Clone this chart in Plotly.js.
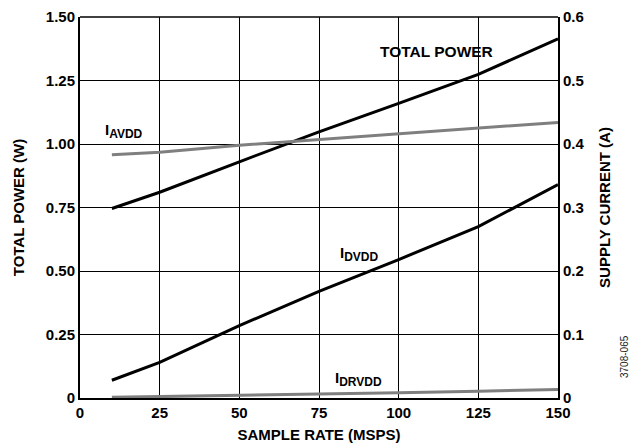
<!DOCTYPE html>
<html><head><meta charset="utf-8">
<script src="https://cdn.plot.ly/plotly-3.0.1.min.js"></script>
<style>html,body{margin:0;padding:0;background:#fff}#c{width:644px;height:444px}</style>
</head><body><div id="c"></div>
<script>
// Sample rate (MSPS)
const sampleRate = [10, 25, 50, 75, 100, 125, 150];
// Total power (W), left axis
const totalPower = [0.746, 0.81, 0.93, 1.048, 1.16, 1.274, 1.414];
// Supply currents (A), right axis
const iAVDD = [0.383, 0.387, 0.398, 0.407, 0.416, 0.425, 0.434];
const iDVDD = [0.028, 0.056, 0.114, 0.168, 0.218, 0.270, 0.336];
const iDRVDD = [0.001, 0.002, 0.0044, 0.0063, 0.0082, 0.0107, 0.0134];

const xTicks = [0, 25, 50, 75, 100, 125, 150];
const yTicks = [0, 0.25, 0.5, 0.75, 1.0, 1.25, 1.5];
const yTickText = ['0', '0.25', '0.50', '0.75', '1.00', '1.25', '1.50'];
const y2Ticks = [0, 0.1, 0.2, 0.3, 0.4, 0.5, 0.6];
const y2TickText = ['0', '0.1', '0.2', '0.3', '0.4', '0.5', '0.6'];

const FONT = 'Liberation Sans, Arial, sans-serif';
const black = '#000000', gray = '#7f7f7f';
const bold = (s) => ({family: FONT, size: s, weight: 'bold', color: '#000'});
const sub = (main, s) => main + '<sub><span style="font-size:12px">' + s + '</span></sub>';

const traces = [
  {x: sampleRate, y: iDRVDD, yaxis: 'y2', mode: 'lines', line: {color: gray, width: 3}, name: 'IDRVDD'},
  {x: sampleRate, y: iAVDD, yaxis: 'y2', mode: 'lines', line: {color: gray, width: 3}, name: 'IAVDD'},
  {x: sampleRate, y: iDVDD, yaxis: 'y2', mode: 'lines', line: {color: black, width: 3}, name: 'IDVDD'},
  {x: sampleRate, y: totalPower, yaxis: 'y', mode: 'lines', line: {color: black, width: 3}, name: 'TOTAL POWER'}
];

const layout = {
  width: 644, height: 444,
  margin: {l: 80, r: 86, t: 17, b: 46},
  paper_bgcolor: '#fff', plot_bgcolor: '#fff',
  showlegend: false,
  font: {family: FONT, size: 15, color: '#000'},
  xaxis: {
    range: [0, 150], tickvals: xTicks, ticktext: xTicks.map(String),
    showgrid: true, gridcolor: '#000', gridwidth: 1,
    showline: true, linecolor: '#000', linewidth: 2,
    zeroline: false, ticks: '', ticklen: 0,
    tickfont: bold(15),
    title: {text: 'SAMPLE RATE (MSPS)', font: bold(15), standoff: 9}
  },
  yaxis: {
    range: [0, 1.5], tickvals: yTicks, ticktext: yTickText,
    showgrid: true, gridcolor: '#000', gridwidth: 1,
    showline: true, linecolor: '#000', linewidth: 2,
    zeroline: false, ticks: '',
    tickfont: bold(15),
    title: {text: 'TOTAL POWER (W)', font: bold(15), standoff: 18}
  },
  yaxis2: {
    range: [0, 0.6], tickvals: y2Ticks, ticktext: y2TickText,
    overlaying: 'y', side: 'right',
    showgrid: false, showline: true, linecolor: '#000', linewidth: 2,
    zeroline: false, ticks: '',
    tickfont: bold(15),
    title: {text: 'SUPPLY CURRENT (A)', font: bold(15), standoff: 16}
  },
  shapes: [
    {type: 'line', xref: 'paper', yref: 'paper', x0: 0, x1: 1, y0: 1, y1: 1, line: {color: '#000', width: 1.5}}
  ],
  annotations: [
    {text: 'TOTAL POWER', x: 112, y: 1.364, xref: 'x', yref: 'y', showarrow: false, xanchor: 'center', font: bold(15.5)},
    {text: sub('I', 'AVDD'), x: 7.2, y: 1.05, xref: 'x', yref: 'y', showarrow: false, xanchor: 'left', font: bold(15)},
    {text: sub('I', 'DVDD'), x: 81, y: 0.565, xref: 'x', yref: 'y', showarrow: false, xanchor: 'left', font: bold(15)},
    {text: sub('I', 'DRVDD'), x: 79.5, y: 0.075, xref: 'x', yref: 'y', showarrow: false, xanchor: 'left', font: bold(15)},
    {text: '3708-065', x: 632, y: 380, xref: 'paper', yref: 'paper', showarrow: false, textangle: -90, font: {family: FONT, size: 10, color: '#222'}}
  ]
};
const plotW = 644 - 80 - 86, plotH = 444 - 17 - 46;
layout.annotations[4].x = (632 - 80) / plotW;
layout.annotations[4].y = (398 - 380) / plotH;

Plotly.newPlot('c', traces, layout, {displayModeBar: false, staticPlot: true});
</script></body></html>
